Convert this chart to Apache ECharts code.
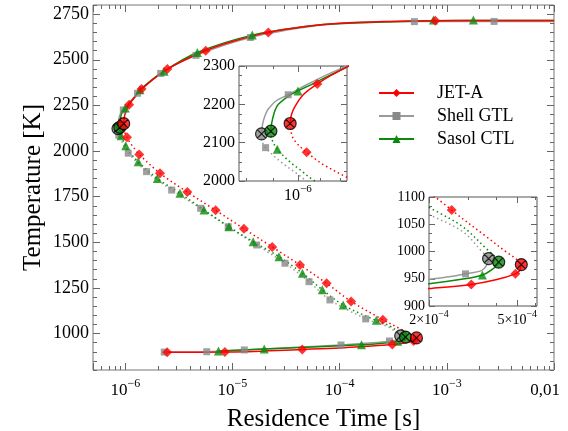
<!DOCTYPE html>
<html>
<head>
<meta charset="utf-8">
<title>S-curve</title>
<script src="https://cdn.jsdelivr.net/npm/echarts@6.0.0/dist/echarts.min.js"></script>
<style>
  html, body { margin: 0; padding: 0; background: #fff; }
  #chart { width: 568px; height: 431px; }
</style>
</head>
<body>
<div id="chart"></div>
<script>
// legend order
var fuels = ["JET-A", "Shell GTL", "Sasol CTL"];

// upper (burning) branch, solid  [tau s, T K]
var jetUpper = [[0.967e-6,2150],[0.972e-6,2172],[0.987e-6,2194],[1.023e-6,2225],[1.087e-6,2253],[1.148e-6,2274],[1.233e-6,2297],[1.42e-6,2340],[2.47e-6,2449],[5.63e-6,2550],[1.0e-5,2600],[2.16e-5,2650],[5.0e-5,2684],[1.0e-4,2700],[3.0e-4,2710],[7.8e-4,2714],[3.0e-3,2715],[1.0e-2,2715]];
var gtlUpper = [[0.855e-6,2123],[0.857e-6,2140],[0.861e-6,2155],[0.870e-6,2174],[0.880e-6,2188],[0.912e-6,2210],[0.959e-6,2225],[1.038e-6,2251],[1.131e-6,2277],[1.224e-6,2298],[1.30e-6,2316],[2.14e-6,2425],[4.57e-6,2524],[1.47e-5,2622],[5.0e-5,2680],[1.0e-4,2697],[4.98e-4,2709],[2.76e-3,2710],[1.0e-2,2710]];
var ctlUpper = [[0.890e-6,2130],[0.892e-6,2145],[0.896e-6,2160],[0.905e-6,2182],[0.919e-6,2200],[0.959e-6,2221],[1.0e-6,2235],[1.068e-6,2254],[1.148e-6,2276],[1.233e-6,2297],[1.37e-6,2335],[2.3e-6,2437],[4.7e-6,2540],[1.53e-5,2635],[5.0e-5,2683],[1.0e-4,2699],[7.5e-4,2714],[1.77e-3,2715],[1.0e-2,2715]];

// middle (unstable) branch, dotted
var jetMiddle = [[0.967e-6,2150],[0.970e-6,2133],[0.976e-6,2116],[0.994e-6,2099],[1.038e-6,2075],[1.115e-6,2043],[1.233e-6,2010],[1.35e-6,1981],[2.11e-6,1878],[3.79e-6,1775],[6.97e-6,1675],[1.28e-5,1574],[2.35e-5,1474],[4.27e-5,1375],[7.56e-5,1275],[1.28e-4,1176],[2.53e-4,1076],[3.63e-4,1027],[4.46e-4,999],[4.92e-4,987],[5.21e-4,976]];
var gtlMiddle = [[0.855e-6,2123],[0.857e-6,2105],[0.870e-6,2087],[0.925e-6,2052],[0.994e-6,2020],[1.04e-6,1999],[1.066e-6,1988],[1.58e-6,1887],[2.71e-6,1786],[5.05e-6,1686],[9.13e-6,1585],[1.68e-5,1485],[3.09e-5,1385],[5.18e-5,1284],[8.12e-5,1184],[1.75e-4,1080],[2.0e-4,1068],[2.85e-4,1036],[3.48e-4,999],[3.63e-4,993],[3.71e-4,987]];
var ctlMiddle = [[0.890e-6,2130],[0.893e-6,2111],[0.915e-6,2083],[0.966e-6,2050],[1.01e-6,2029],[1.076e-6,2000],[1.32e-6,1941],[1.99e-6,1850],[3.24e-6,1768],[5.43e-6,1677],[9.27e-6,1585],[1.56e-5,1503],[2.72e-5,1421],[4.5e-5,1330],[6.89e-5,1240],[1.08e-4,1156],[2.0e-4,1081],[2.2e-4,1072],[2.85e-4,1045],[3.63e-4,1005],[3.95e-4,991],[4.12e-4,980.5]];

// lower (weakly reacting) branch, solid
var jetLower = [[2.46e-6,897],[8.5e-6,898],[4.48e-5,913],[1.0e-4,921],[2.0e-4,932],[3.1e-4,939.5],[4.0e-4,948],[4.9e-4,959],[5.12e-4,965],[5.21e-4,976]];
var gtlLower = [[2.31e-6,898],[5.75e-6,900],[1.29e-5,910],[1.03e-4,937],[2.0e-4,949],[2.5e-4,954],[2.92e-4,959],[3.44e-4,965],[3.63e-4,974],[3.71e-4,987]];
var ctlLower = [[7.4e-6,904],[1.98e-5,915],[1.6e-4,938],[2.0e-4,941],[2.8e-4,949],[3.48e-4,957],[3.88e-4,968],[4.05e-4,975],[4.12e-4,980.5]];

// symbols on the main plot
var jetMarks = [[1.087e-6,2253],[1.42e-6,2340],[2.47e-6,2449],[5.63e-6,2550],[2.16e-5,2650],[7.8e-4,2714],[1.038e-6,2075],[1.35e-6,1981],[2.11e-6,1878],[3.79e-6,1775],[6.97e-6,1675],[1.28e-5,1574],[2.35e-5,1474],[4.27e-5,1375],[7.56e-5,1275],[1.28e-4,1176],[2.53e-4,1076],[2.46e-6,897],[8.5e-6,898],[4.48e-5,913],[3.1e-4,939.5],[4.9e-4,959]];
var gtlMarks = [[0.959e-6,2225],[1.30e-6,2316],[2.14e-6,2425],[4.57e-6,2524],[1.47e-5,2622],[4.98e-4,2709],[2.76e-3,2710],[0.870e-6,2087],[1.066e-6,1988],[1.58e-6,1887],[2.71e-6,1786],[5.05e-6,1686],[9.13e-6,1585],[1.68e-5,1485],[3.09e-5,1385],[5.18e-5,1284],[8.12e-5,1184],[1.75e-4,1080],[2.31e-6,898],[5.75e-6,900],[1.29e-5,910],[1.03e-4,937],[2.92e-4,959]];
var ctlMarks = [[1.0e-6,2235],[1.37e-6,2335],[2.3e-6,2437],[4.7e-6,2540],[1.53e-5,2635],[7.5e-4,2718],[1.77e-3,2718],[0.915e-6,2083],[1.01e-6,2029],[1.32e-6,1941],[1.99e-6,1850],[3.24e-6,1768],[5.43e-6,1677],[9.27e-6,1585],[1.56e-5,1503],[2.72e-5,1421],[4.5e-5,1330],[6.89e-5,1240],[1.08e-4,1156],[2.2e-4,1072],[7.4e-6,904],[1.98e-5,915],[1.6e-4,938],[3.48e-4,957]];

// symbols shown in the two zoom insets
var jetIn1 = [[1.087e-6,2253],[1.038e-6,2075]];
var gtlIn1 = [[0.959e-6,2225],[0.870e-6,2087]];
var ctlIn1 = [[1.0e-6,2235],[0.915e-6,2083]];
var jetIn2 = [[2.53e-4,1076],[3.1e-4,939.5],[4.9e-4,959]];
var gtlIn2 = [[2.92e-4,959]];
var ctlIn2 = [[3.48e-4,957]];

// extinction / ignition turning points
var jetTurn = [[0.967e-6,2150],[5.21e-4,976]];
var gtlTurn = [[0.855e-6,2123],[3.71e-4,987]];
var ctlTurn = [[0.890e-6,2130],[4.12e-4,980.5]];

// tick labels
var mainYLabels = [1000,1250,1500,1750,2000,2250,2500,2750];
var in1YLabels = [2000,2100,2200,2300];
var in2YLabels = [900,950,1000,1050,1100];
var in1XLabels = [1e-6];
var in1XMinor = [8e-7,9e-7,1.1e-6,1.2e-6];
var in2XLabels = [2e-4,5e-4];
var in2XMinor = [3e-4,4e-4,6e-4];

var FONT = "Liberation Serif";
var AXIS = "#666666";
var styles = [
  { line: "#ff0000", mark: "#ff0000", symbol: "diamond", size: 10 },
  { line: "#9a9a9a", mark: "#888888", symbol: "rect", size: 7 },
  { line: "#0a8a0a", mark: "#0a8a0a", symbol: "triangle", size: 9 }
];
var cross = "path://M10,0A10,10,0,1,1,10,20A10,10,0,1,1,10,0ZM3,3L17,17M17,3L3,17";

function steps(a, b, s, skip) {
  var out = [];
  for (var k = 0; a + k * s <= b + 1e-6; k++) {
    var v = Math.round((a + k * s) * 1000) / 1000;
    var isMajor = skip.some(function (m) { return Math.abs(m - v) < 1e-3; });
    if (!isMajor) out.push(v);
  }
  return out;
}
var mainYMinor = steps(800, 2800, 50, mainYLabels);
var in1YMinor = steps(2000, 2300, 25, in1YLabels);
var in2YMinor = steps(900, 1100, 50 / 3, in2YLabels);
var mainXMinor = [];
[-7, -6, -5, -4, -3].forEach(function (e) {
  for (var m = 2; m <= 9; m++) {
    var v = m * Math.pow(10, e);
    if (v > 5e-7 && v < 1e-2) mainXMinor.push(v);
  }
});

function rich(fs, ss) {
  return {
    b: { fontFamily: FONT, fontSize: fs, color: "#000", lineHeight: fs + 4, verticalAlign: "bottom" },
    s: { fontFamily: FONT, fontSize: ss, color: "#000", lineHeight: ss, verticalAlign: "top" },
    c: { fontFamily: FONT, fontSize: fs, color: "#000", lineHeight: fs + 4, verticalAlign: "bottom", padding: [0, 18, 0, 0] }
  };
}
function sciLabel(v) {
  var e = Math.floor(Math.log10(v) + 1e-9);
  var m = Math.round(v / Math.pow(10, e));
  return (m === 1 ? "{b|10}" : "{b|" + m + "\u00d710}") + "{s|\u2212" + (-e) + "}";
}
function mainXLabel(v) {
  var e = Math.log10(v), n = Math.round(e);
  if (Math.abs(e - n) > 1e-6) return "";
  if (n === -2) return "{c|0,01}";
  return sciLabel(v);
}

function yAxes(grid, min, max, major, minor, fs, majLen, minLen) {
  function ax(pos, ticks, len, labels) {
    return {
      gridIndex: grid, type: "value", min: min, max: max, position: pos,
      axisLine: { show: false }, splitLine: { show: false },
      axisTick: { inside: true, length: len, customValues: ticks, lineStyle: { color: AXIS } },
      axisLabel: labels ? {
        customValues: ticks, margin: 4, fontFamily: FONT, fontSize: fs, color: "#000",
        formatter: function (v) { return String(Math.round(v)); }
      } : { show: false }
    };
  }
  return [ax("left", major, majLen, true), ax("left", minor, minLen, false),
          ax("right", major, majLen, false), ax("right", minor, minLen, false)];
}

function tickSeries(xi, yi, values, y0, len) {
  return {
    type: "custom", xAxisIndex: xi, yAxisIndex: yi, silent: true, z: 10,
    data: values.map(function (v) { return [v, y0]; }),
    renderItem: function (params, api) {
      var x = Math.round(api.coord([api.value(0), api.value(1)])[0]) + 0.5;
      var cs = params.coordSys;
      var st = { stroke: AXIS, lineWidth: 1 };
      return { type: "group", children: [
        { type: "line", shape: { x1: x, y1: cs.y + cs.height, x2: x, y2: cs.y + cs.height - len }, style: st },
        { type: "line", shape: { x1: x, y1: cs.y, x2: x, y2: cs.y + len }, style: st }
      ] };
    }
  };
}
function labelSeries(xi, yi, values, y0, fs, ss) {
  return {
    type: "custom", xAxisIndex: xi, yAxisIndex: yi, silent: true, z: 10,
    data: values.map(function (v) { return [v, y0]; }),
    renderItem: function (params, api) {
      var x = api.coord([api.value(0), api.value(1)])[0];
      var cs = params.coordSys;
      return { type: "text", x: x, y: cs.y + cs.height + 3,
        style: { text: sciLabel(api.value(0)), rich: rich(fs, ss), align: "center", verticalAlign: "top", fill: "#000" } };
    }
  };
}

var yMain = yAxes(0, 800, 2800, mainYLabels, mainYMinor, 18, 7, 4);
Object.assign(yMain[0], {
  name: "Temperature [K]", nameLocation: "middle", nameGap: 47, nameRotate: 90, nameMoveOverlap: false,
  nameTextStyle: { fontFamily: FONT, fontSize: 25, color: "#000" }
});
var yAxisList = yMain
  .concat(yAxes(1, 2000, 2300, in1YLabels, in1YMinor, 16, 6, 3))
  .concat(yAxes(2, 900, 1100, in2YLabels, in2YMinor, 14, 6, 3));

var xAxisList = [
  {
    gridIndex: 0, type: "log", logBase: 10, min: 5e-7, max: 1e-2, position: "bottom",
    name: "Residence Time [s]", nameLocation: "middle", nameGap: 37, nameMoveOverlap: false,
    nameTextStyle: { fontFamily: FONT, fontSize: 25, color: "#000" },
    axisLine: { show: false }, splitLine: { show: false },
    axisTick: { inside: true, length: 7, lineStyle: { color: AXIS } },
    axisLabel: { margin: 8, formatter: mainXLabel, rich: rich(17, 12) }
  },
  {
    gridIndex: 0, type: "log", logBase: 10, min: 5e-7, max: 1e-2, position: "top",
    axisLine: { show: false }, splitLine: { show: false },
    axisTick: { inside: true, length: 7, lineStyle: { color: AXIS } },
    axisLabel: { show: false }
  },
  { gridIndex: 1, type: "log", logBase: 10, min: 7.76e-7, max: 1.235e-6, show: false },
  { gridIndex: 2, type: "log", logBase: 10, min: 2e-4, max: 6.13e-4, show: false }
];

var upper = [jetUpper, gtlUpper, ctlUpper];
var middle = [jetMiddle, gtlMiddle, ctlMiddle];
var lower = [jetLower, gtlLower, ctlLower];
var turns = [jetTurn, gtlTurn, ctlTurn];
var panels = [
  { x: 0, y: 0, marks: [jetMarks, gtlMarks, ctlMarks] },
  { x: 2, y: 4, marks: [jetIn1, gtlIn1, ctlIn1] },
  { x: 3, y: 8, marks: [jetIn2, gtlIn2, ctlIn2] }
];

var series = [];
panels.forEach(function (p, pi) {
  var drawOrder = [1, 2, 0]; // red ends up on top
  drawOrder.forEach(function (i) {
    var s = styles[i];
    var common = {
      type: "line", xAxisIndex: p.x, yAxisIndex: p.y, showSymbol: false,
      symbol: s.symbol, symbolSize: s.size, smooth: 0.35,
      itemStyle: { color: s.mark }, silent: true, z: 2
    };
    series.push(Object.assign({}, common, { name: pi === 0 ? fuels[i] : fuels[i] + " " + pi, data: upper[i], lineStyle: { color: s.line, width: 1.5 } }));
    series.push(Object.assign({}, common, { name: fuels[i] + " unstable " + pi, data: middle[i], lineStyle: { color: s.line, width: 1.5, type: [1.5, 3] } }));
    series.push(Object.assign({}, common, { name: fuels[i] + " lower " + pi, data: lower[i], lineStyle: { color: s.line, width: 1.5 } }));
  });
  drawOrder.forEach(function (i) {
    var s = styles[i];
    series.push({ type: "scatter", name: fuels[i] + " pts " + pi, xAxisIndex: p.x, yAxisIndex: p.y,
      data: p.marks[i], symbol: s.symbol, symbolSize: s.size, itemStyle: { color: s.mark }, silent: true, z: 3 });
  });
  drawOrder.forEach(function (i) {
    series.push({ type: "scatter", name: fuels[i] + " turn " + pi, xAxisIndex: p.x, yAxisIndex: p.y,
      data: turns[i], symbol: cross, symbolSize: 12,
      itemStyle: { color: styles[i].mark, borderColor: "#000", borderWidth: 1.2 }, silent: true, z: 4 });
  });
});

series.push(tickSeries(0, 0, mainXMinor, 800, 4));
series.push(tickSeries(2, 4, in1XLabels, 2000, 6));
series.push(tickSeries(2, 4, in1XMinor, 2000, 3));
series.push(labelSeries(2, 4, in1XLabels, 2000, 16, 11));
series.push(tickSeries(3, 8, in2XLabels, 900, 6));
series.push(tickSeries(3, 8, in2XMinor, 900, 3));
series.push(labelSeries(3, 8, in2XLabels, 900, 14, 10));

var option = {
  animation: false,
  backgroundColor: "#ffffff",
  grid: [
    { left: 93, top: 5, width: 461, height: 365, outerBoundsMode: "none", show: true, borderColor: "#777", borderWidth: 1, backgroundColor: "transparent" },
    { left: 239, top: 66, width: 108, height: 115, outerBoundsMode: "none", show: true, borderColor: "#555", borderWidth: 1, backgroundColor: "#ffffff" },
    { left: 429, top: 197, width: 108, height: 109, outerBoundsMode: "none", show: true, borderColor: "#555", borderWidth: 1, backgroundColor: "#ffffff" }
  ],
  legend: {
    data: fuels, orient: "vertical", left: 373, top: 79,
    itemWidth: 35, itemHeight: 10, itemGap: 5, selectedMode: false,
    textStyle: { fontFamily: FONT, fontSize: 18, color: "#000", padding: [0, 0, 0, 18] }
  },
  xAxis: xAxisList,
  yAxis: yAxisList,
  series: series
};

var myChart = echarts.init(document.getElementById("chart"));
myChart.setOption(option);
</script>
</body>
</html>
